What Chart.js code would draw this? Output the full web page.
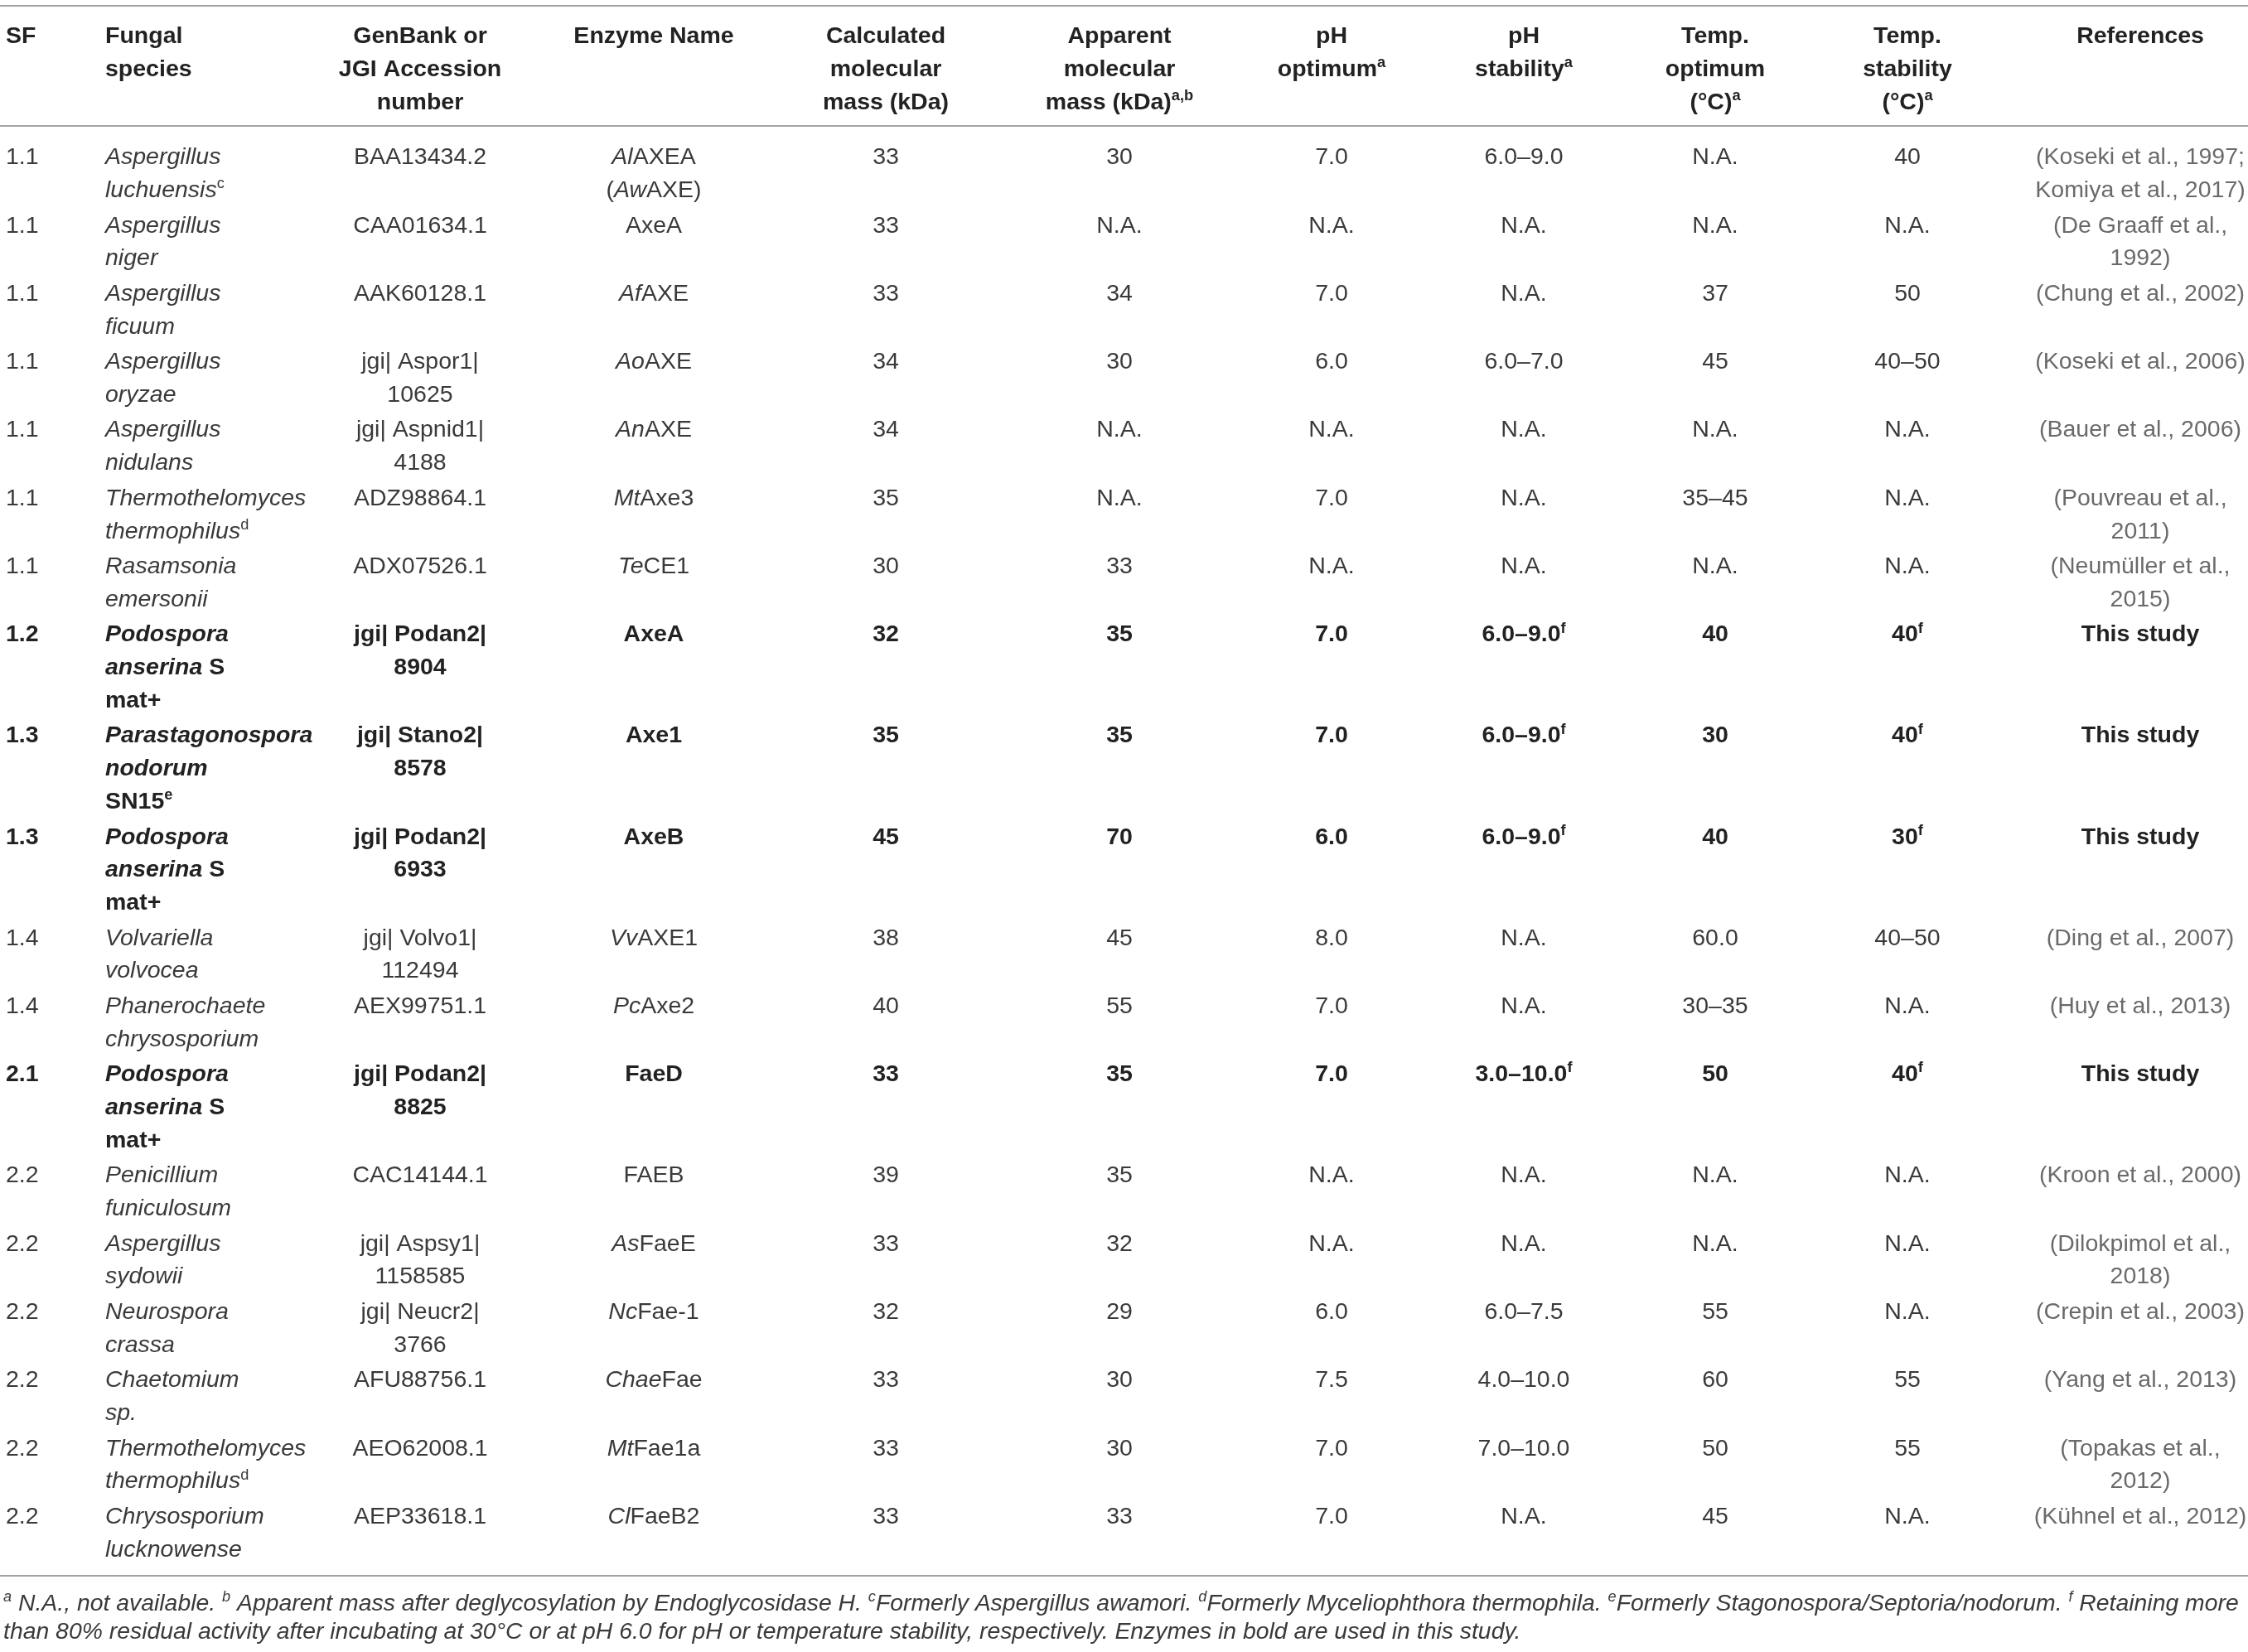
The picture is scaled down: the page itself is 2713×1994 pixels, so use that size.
<!DOCTYPE html>
<html>
<head>
<meta charset="utf-8">
<script src="https://cdn.jsdelivr.net/npm/chart.js@4.4.1/dist/chart.umd.min.js"></script>
<style>
  html, body { margin: 0; padding: 0; background: #fff; }
  canvas { display: block; }
</style>
</head>
<body>
<canvas id="tableChart" width="2713" height="1994"></canvas>
<script>
// --- Table data ---
// markup: *...* toggles italic, ^{...} is a superscript, \n is a line break
const headers = [
    "SF", "Fungal\nspecies", "GenBank or\nJGI Accession\nnumber", "Enzyme Name",
    "Calculated\nmolecular\nmass (kDa)", "Apparent\nmolecular\nmass (kDa)^{a,b}",
    "pH\noptimum^{a}", "pH\nstability^{a}", "Temp.\noptimum\n(°C)^{a}",
    "Temp.\nstability\n(°C)^{a}", "References",
];
const sfCodes = [
    "1.1", "1.1", "1.1", "1.1", "1.1", "1.1", "1.1", "1.2", "1.3", "1.3",
    "1.4", "1.4", "2.1", "2.2", "2.2", "2.2", "2.2", "2.2", "2.2",
];
const species = [
    "*Aspergillus\nluchuensis*^{c}", "*Aspergillus\nniger*", "*Aspergillus\nficuum*",
    "*Aspergillus\noryzae*", "*Aspergillus\nnidulans*", "*Thermothelomyces\nthermophilus*^{d}",
    "*Rasamsonia\nemersonii*", "*Podospora\nanserina* S\nmat+", "*Parastagonospora\nnodorum*\nSN15^{e}",
    "*Podospora\nanserina* S\nmat+", "*Volvariella\nvolvocea*", "*Phanerochaete\nchrysosporium*",
    "*Podospora\nanserina* S\nmat+", "*Penicillium\nfuniculosum*", "*Aspergillus\nsydowii*",
    "*Neurospora\ncrassa*", "*Chaetomium\nsp.*", "*Thermothelomyces\nthermophilus*^{d}",
    "*Chrysosporium\nlucknowense*",
];
const accessions = [
    "BAA13434.2", "CAA01634.1", "AAK60128.1", "jgi| Aspor1|\n10625", "jgi| Aspnid1|\n4188",
    "ADZ98864.1", "ADX07526.1", "jgi| Podan2|\n8904", "jgi| Stano2|\n8578", "jgi| Podan2|\n6933",
    "jgi| Volvo1|\n112494", "AEX99751.1", "jgi| Podan2|\n8825", "CAC14144.1", "jgi| Aspsy1|\n1158585",
    "jgi| Neucr2|\n3766", "AFU88756.1", "AEO62008.1", "AEP33618.1",
];
const enzymes = [
    "*Al*AXEA\n(*Aw*AXE)", "AxeA", "*Af*AXE", "*Ao*AXE", "*An*AXE", "*Mt*Axe3", "*Te*CE1",
    "AxeA", "Axe1", "AxeB", "*Vv*AXE1", "*Pc*Axe2", "FaeD", "FAEB", "*As*FaeE",
    "*Nc*Fae-1", "*Chae*Fae", "*Mt*Fae1a", "*Cl*FaeB2",
];
const calcMass = ["33", "33", "33", "34", "34", "35", "30", "32", "35", "45", "38", "40", "33", "39", "33", "32", "33", "33", "33"];
const appMass = ["30", "N.A.", "34", "30", "N.A.", "N.A.", "33", "35", "35", "70", "45", "55", "35", "35", "32", "29", "30", "30", "33"];
const phOptimum = ["7.0", "N.A.", "7.0", "6.0", "N.A.", "7.0", "N.A.", "7.0", "7.0", "6.0", "8.0", "7.0", "7.0", "N.A.", "N.A.", "6.0", "7.5", "7.0", "7.0"];
const phStability = [
    "6.0–9.0", "N.A.", "N.A.", "6.0–7.0", "N.A.", "N.A.", "N.A.", "6.0–9.0^{f}", "6.0–9.0^{f}",
    "6.0–9.0^{f}", "N.A.", "N.A.", "3.0–10.0^{f}", "N.A.", "N.A.", "6.0–7.5", "4.0–10.0", "7.0–10.0", "N.A.",
];
const tempOptimum = ["N.A.", "N.A.", "37", "45", "N.A.", "35–45", "N.A.", "40", "30", "40", "60.0", "30–35", "50", "N.A.", "N.A.", "55", "60", "50", "45"];
const tempStability = [
    "40", "N.A.", "50", "40–50", "N.A.", "N.A.", "N.A.", "40^{f}", "40^{f}", "30^{f}",
    "40–50", "N.A.", "40^{f}", "N.A.", "N.A.", "N.A.", "55", "55", "N.A.",
];
const references = [
    "(Koseki et al., 1997;\nKomiya et al., 2017)", "(De Graaff et al.,\n1992)", "(Chung et al., 2002)",
    "(Koseki et al., 2006)", "(Bauer et al., 2006)", "(Pouvreau et al.,\n2011)", "(Neumüller et al.,\n2015)",
    "This study", "This study", "This study", "(Ding et al., 2007)", "(Huy et al., 2013)", "This study",
    "(Kroon et al., 2000)", "(Dilokpimol et al.,\n2018)", "(Crepin et al., 2003)", "(Yang et al., 2013)",
    "(Topakas et al.,\n2012)", "(Kühnel et al., 2012)",
];
// rows shown in bold (enzymes used in this study)
const studied = [false, false, false, false, false, false, false, true, true, true, false, false, true, false, false, false, false, false, false];
const footnotes = [
    "^{a} N.A., not available. ^{b} Apparent mass after deglycosylation by Endoglycosidase H. ^{c}Formerly Aspergillus awamori. ^{d}Formerly Myceliophthora thermophila. ^{e}Formerly Stagonospora/Septoria/nodorum. ^{f} Retaining more",
    "than 80% residual activity after incubating at 30°C or at pH 6.0 for pH or temperature stability, respectively. Enzymes in bold are used in this study.",
];

const columns = [sfCodes, species, accessions, enzymes, calcMass, appMass, phOptimum, phStability, tempOptimum, tempStability, references];

// --- Layout ---
const W = 2713, H = 1994;
const colX = [7, 127, 507, 789, 1069, 1351, 1607, 1839, 2070, 2302, 2583];
const colAlign = ["left", "left", "center", "center", "center", "center", "center", "center", "center", "center", "center"];
const fontSize = 28.5;
const lineH = 39.8;
const rowPad = 2.7;
const headerY = 42;
const firstRowY = 188;
const ruleY = [7, 152, 1902];
const footY = [1934, 1968];
const footLeft = 4;
const footWidth = 2700; // first footnote line runs across the full width
const FONT = '"Liberation Sans", Arial, Helvetica, sans-serif';

function parseRich(str) {
    let italic = false;
    return str.split("\n").map((line) => {
        const runs = [];
        let buf = "";
        for (let i = 0; i < line.length; i++) {
            const ch = line[i];
            if (ch === "*") {
                if (buf) runs.push({ text: buf, italic, sup: false });
                buf = "";
                italic = !italic;
            } else if (ch === "^" && line[i + 1] === "{") {
                if (buf) runs.push({ text: buf, italic, sup: false });
                buf = "";
                const end = line.indexOf("}", i);
                runs.push({ text: line.slice(i + 2, end), italic, sup: true });
                i = end;
            } else {
                buf += ch;
            }
        }
        if (buf) runs.push({ text: buf, italic, sup: false });
        return runs;
    });
}

function fontFor(size, bold, italic) {
    return `${italic ? "italic " : ""}${bold ? "bold " : ""}${size}px ${FONT}`;
}

function measureRuns(ctx, runs, size, bold, forceItalic) {
    let total = 0;
    runs.forEach((r) => {
        ctx.font = fontFor(r.sup ? size * 0.64 : size, bold, r.italic || forceItalic);
        r.w = ctx.measureText(r.text).width;
        total += r.w;
    });
    return total;
}

function drawRichLine(ctx, runs, x, y, align, size, bold, color, forceItalic) {
    const total = measureRuns(ctx, runs, size, bold, forceItalic);
    let cx = align === "center" ? x - total / 2 : x;
    const baseline = y + size * 0.36;
    ctx.fillStyle = color;
    ctx.textAlign = "left";
    ctx.textBaseline = "alphabetic";
    runs.forEach((r) => {
        ctx.font = fontFor(r.sup ? size * 0.64 : size, bold, r.italic || forceItalic);
        ctx.fillText(r.text, cx, r.sup ? baseline - size * 0.38 : baseline);
        cx += r.w;
    });
}

function drawCell(ctx, text, x, y, align, bold, color) {
    parseRich(text).forEach((runs, k) => {
        drawRichLine(ctx, runs, x, y + k * lineH, align, fontSize, bold, color, false);
    });
}

// row positions (centre of first text line) from the number of lines per row
const rowLines = sfCodes.map((_, r) => Math.max(...columns.map((col) => col[r].split("\n").length)));
const rowY = [];
rowLines.reduce((y, n, r) => {
    rowY[r] = y;
    return y + n * lineH + rowPad;
}, firstRowY);

// --- Chart: one dataset per column, one point per cell ---
const datasets = columns.map((col, c) => ({
    label: headers[c],
    data: col.map((_, r) => ({ x: colX[c], y: rowY[r] })),
    pointRadius: 0,
    showLine: false,
}));
datasets.push({
    label: "header",
    data: headers.map((_, c) => ({ x: colX[c], y: headerY })),
    pointRadius: 0,
    showLine: false,
});

const tablePlugin = {
    id: "tableText",
    afterDatasetsDraw(chart) {
        const ctx = chart.ctx;
        const xs = chart.scales.x;
        const ys = chart.scales.y;
        ctx.save();

        // horizontal rules
        ctx.strokeStyle = "#a3a3a3";
        ctx.lineWidth = 2;
        ruleY.forEach((v) => {
            const py = Math.round(ys.getPixelForValue(v));
            ctx.beginPath();
            ctx.moveTo(xs.getPixelForValue(0), py);
            ctx.lineTo(xs.getPixelForValue(W), py);
            ctx.stroke();
        });

        // header cells
        const headMeta = chart.getDatasetMeta(columns.length);
        headMeta.data.forEach((pt, c) => {
            drawCell(ctx, headers[c], pt.x, pt.y, colAlign[c], true, "#222");
        });

        // body cells
        columns.forEach((col, c) => {
            const meta = chart.getDatasetMeta(c);
            meta.data.forEach((pt, r) => {
                const bold = studied[r];
                let color = bold ? "#222" : "#3a3a3a";
                if (c === 10 && !bold) color = "#6a6a6a";
                drawCell(ctx, col[r], pt.x, pt.y, colAlign[c], bold, color);
            });
        });

        // footnotes, sized so the first line spans the table width
        const footRuns = footnotes.map((line) => parseRich(line)[0]);
        const footSize = 25 * footWidth / measureRuns(ctx, footRuns[0], 25, false, true);
        footRuns.forEach((runs, k) => {
            drawRichLine(ctx, runs, xs.getPixelForValue(footLeft), ys.getPixelForValue(footY[k]),
                "left", footSize, false, "#3a3a3a", true);
        });
        ctx.restore();
    },
};

new Chart(document.getElementById("tableChart").getContext("2d"), {
    type: "scatter",
    data: { datasets },
    options: {
        responsive: false,
        animation: false,
        devicePixelRatio: 1,
        layout: { padding: 0 },
        plugins: { legend: { display: false }, tooltip: { enabled: false } },
        scales: {
            x: { type: "linear", min: 0, max: W, display: false },
            y: { type: "linear", min: 0, max: H, reverse: true, display: false },
        },
    },
    plugins: [tablePlugin],
});
</script>
</body>
</html>
